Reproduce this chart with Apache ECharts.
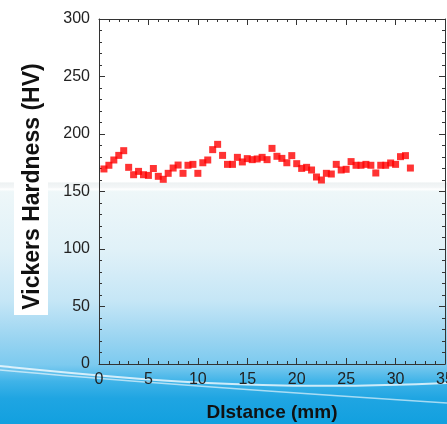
<!DOCTYPE html>
<html>
<head>
<meta charset="utf-8">
<script src="https://cdn.jsdelivr.net/npm/echarts@6/dist/echarts.min.js"></script>
<style>
html,body{margin:0;padding:0;background:#fff;}
#c{width:447px;height:424px;}
</style>
</head>
<body>
<div id="c"></div>
<script>
var distance = [0.5,1,1.5,2,2.5,3,3.5,4,4.5,5,5.5,6,6.5,7,7.5,8,8.5,9,9.5,10,10.5,11,11.5,12,12.5,13,13.5,14,14.5,15,15.5,16,16.5,17,17.5,18,18.5,19,19.5,20,20.5,21,21.5,22,22.5,23,23.5,24,24.5,25,25.5,26,26.5,27,27.5,28,28.5,29,29.5,30,30.5,31,31.5];
var hardness = [169.6,172.8,177.4,181.4,185.5,171,164.6,167.5,164.6,164,170,163.2,160.6,165.8,170.4,173,165.8,172.8,173.6,165.8,175,177.4,186.4,191,181.4,173.6,173.6,179.7,175.7,178.6,177.7,178.3,179.7,177.7,187.5,180.6,178.8,175,181.2,174.2,170.1,171,168.7,162.6,160,165.8,165.2,173.6,168.7,169.3,176,172.8,172.8,173.6,172.8,166.1,172.8,172.8,174.8,173.6,180.3,181.2,170.4];
var xTitle = "DIstance (mm)";
var yTitle = "Vickers Hardness (HV)";

var chart = echarts.init(document.getElementById('c'), null, {renderer:'canvas'});
var points = distance.map(function(d,i){return [d, hardness[i]];});
var font = 'Liberation Sans, Arial, sans-serif';
var axisLine = {show:true, onZero:false, lineStyle:{color:'#333', width:1}};
var tick = {show:true, inside:true, length:6, lineStyle:{color:'#333'}};
var minor = {show:true, splitNumber:5, length:3, lineStyle:{color:'#333'}};
function mirror(isX, pos){
  return {
    type:'value', position:pos, min:0, max: isX?35:300,
    interval: isX?5:50,
    axisLine: axisLine, axisTick: tick, minorTick: minor,
    axisLabel:{show:false}, splitLine:{show:false}
  };
}
chart.setOption({
  backgroundColor: {
    type:'linear', x:0, y:0, x2:0, y2:1,
    colorStops:[
      {offset:0, color:'#ffffff'},
      {offset:0.428, color:'#ffffff'},
      {offset:0.432, color:'#eef2f3'},
      {offset:0.442, color:'#f3f6f7'},
      {offset:0.446, color:'#ffffff'},
      {offset:0.452, color:'#eef7f9'},
      {offset:0.59, color:'#e0f1f8'},
      {offset:0.71, color:'#c5e6f6'},
      {offset:0.80, color:'#99d4f1'},
      {offset:0.86, color:'#7ccaef'},
      {offset:0.90, color:'#3fb3e8'},
      {offset:0.94, color:'#1fa5e2'},
      {offset:1, color:'#12a0df'}
    ]
  },
  animation:false,
  graphic:[
    {type:'rect', z:-1, shape:{x:14,y:182,width:34,height:133}, style:{fill:'#ffffff'}},
    {type:'bezierCurve', z:-1, shape:{x1:0,y1:366,cpx1:120,cpy1:378,cpx2:250,cpy2:392,x2:447,y2:383},
      style:{stroke:'rgba(255,255,255,0.75)', lineWidth:2, fill:null}},
    {type:'bezierCurve', z:-1, shape:{x1:0,y1:370,cpx1:120,cpy1:381,cpx2:230,cpy2:389,x2:447,y2:403},
      style:{stroke:'rgba(255,255,255,0.6)', lineWidth:1.5, fill:null}}
  ],
  grid:{left:99, top:19, right:2, bottom:60, containLabel:false, outerBoundsMode:'none'},
  xAxis:[{
    type:'value', min:0, max:35, interval:5, position:'bottom',
    name:xTitle, nameLocation:'middle', nameGap:39,
    nameTextStyle:{fontFamily:font, fontWeight:'bold', fontSize:19, color:'#111'},
    axisLine: axisLine, axisTick: tick, minorTick: minor,
    axisLabel:{fontFamily:font, fontSize:16, color:'#222', margin:8, showMaxLabel:true},
    splitLine:{show:false}
  }, mirror(true,'top')],
  yAxis:[{
    type:'value', min:0, max:300, interval:50, position:'left',
    name:yTitle, nameLocation:'middle', nameGap:55, nameRotate:90,
    nameTextStyle:{fontFamily:font, fontWeight:'bold', fontSize:23, color:'#111', padding:[0,0,0,10]},
    axisLine: axisLine, axisTick: tick, minorTick: minor,
    axisLabel:{fontFamily:font, fontSize:16, color:'#222', margin:9},
    splitLine:{show:false}
  }, mirror(false,'right')],
  series:[{
    type:'scatter', xAxisIndex:0, yAxisIndex:0, data:points,
    symbol:'rect', symbolSize:7, itemStyle:{color:'#ff0000'}
  }]
});
</script>
</body>
</html>
